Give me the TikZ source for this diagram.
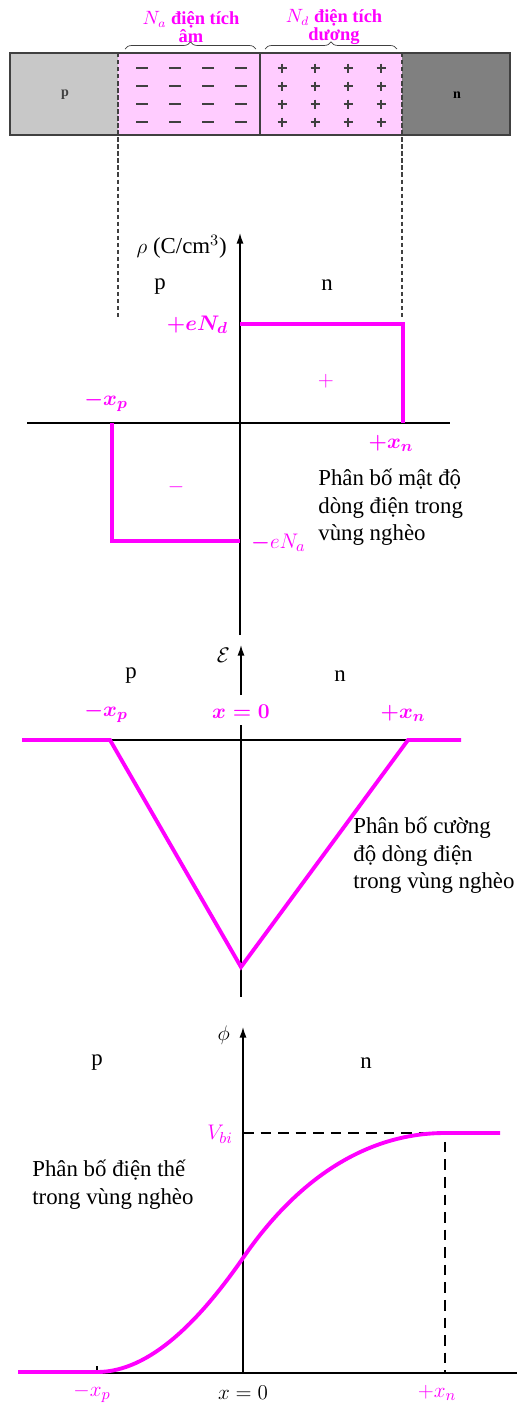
\documentclass[tikz,border=0pt]{standalone}
\usepackage{fontspec}
\setmainfont{Liberation Serif}
\usetikzlibrary{arrows.meta,decorations.pathreplacing}
\definecolor{charge}{HTML}{FF00FF}
\definecolor{pinkzone}{HTML}{FFCCFF}
\definecolor{pgray}{HTML}{C8C8C8}
\definecolor{ngray}{HTML}{808080}
\definecolor{barline}{HTML}{404040}
\begin{document}
\begin{tikzpicture}[x=0.02cm,y=-0.02cm,
  axis/.style={line width=0.8pt},
  axisarrow/.style={axis,-{Latex[length=6pt,width=4pt]}},
  curve/.style={charge,line width=2.2pt},
  border/.style={barline,line width=1.3pt},
  dashline/.style={barline,line width=1.2pt,dash pattern=on 2.5pt off 1.5pt},
  signline/.style={barline,line width=1.1pt},
  lbl/.style={font=\fontsize{13}{15}\selectfont},
  tagb/.style={charge,font=\boldmath\fontsize{13}{15}\selectfont},
  note/.style={font=\fontsize{13}{15.5}\selectfont,align=left,anchor=north west,inner sep=0pt},
  zonelbl/.style={charge,font=\bfseries\fontsize{10.5}{10}\selectfont,align=center}]

\useasboundingbox (0,0) rectangle (519,1403);

% --- Junction bar ---
\fill[pgray] (10,53) rectangle (118,135);
\fill[pinkzone] (118,53) rectangle (402,135);
\fill[ngray] (402,53) rectangle (510,135);
\draw[border] (10,53) rectangle (510,135);
\draw[border] (260,53) -- (260,135);
\draw[dashline] (118,53) -- (118,317);
\draw[dashline] (402,53) -- (402,317);
\node[font=\bfseries\fontsize{8}{8}\selectfont,barline] (pbar) at (65,95) {p};
\node[font=\bfseries\fontsize{8}{8}\selectfont,black] (nbar) at (457,95) {n};

% negative and positive ions
\foreach \cx in {142,175,208,241}
  \foreach \cy in {68,86,104,122}
    \draw[signline] (\cx-6,\cy) -- (\cx+6,\cy);
\foreach \cx in {282,315,348,381}
  \foreach \cy in {68,86,104,122}
    \draw[signline] (\cx-4.5,\cy) -- (\cx+4.5,\cy) (\cx,\cy-4.5) -- (\cx,\cy+4.5);

% braces and zone labels
\draw[barline,decorate,decoration={brace,amplitude=4pt}] (125,49) -- (256,49);
\draw[barline,decorate,decoration={brace,amplitude=4pt}] (265,49) -- (397,49);
\node[zonelbl] (nalbl) at (191,27) {$N_a$ điện tích\\âm};
\node[zonelbl] (ndlbl) at (334,27) {$N_d$ điện tích\\dương};

% --- Charge density ---
\draw[axisarrow] (240,635) -- (240,233);
\draw[axis] (27,423) -- (450,423);
\node[lbl,anchor=east] (rholbl) at (233,247) {$\rho$ (C/cm$^3$)};
\node[lbl] (p1) at (160,287) {p};
\node[lbl] (n1) at (327,285) {n};
\draw[curve] (240,324) -- (403,324) -- (403,423);
\draw[curve] (112,423) -- (112,541) -- (240,541);
\node[tagb,anchor=east] (endlbl) at (234,325) {$+eN_d$};
\node[tagb] (xp1) at (106,402) {$-x_p$};
\node[charge,lbl] (plus1) at (326,381) {$+$};
\node[tagb] (xn1) at (391,443) {$+x_n$};
\node[charge,lbl] (minus1) at (176,487) {$-$};
\node[charge,lbl,anchor=west] (enalbl) at (245,543) {{\boldmath$-$}$eN_a$};
\node[note] (note1) at (318,469) {Phân bố mật độ\\dòng điện trong\\vùng nghèo};

% --- Electric field ---
\draw[axisarrow] (241,695) -- (241,645);
\draw[axis] (241,725) -- (241,997);
\draw[axis] (22,740) -- (461,740);
\draw[curve] (22,740) -- (110,740) -- (241,967) -- (408,740) -- (461,740);
\node[lbl,anchor=east] (elbl) at (236,655) {$\mathcal{E}$};
\node[lbl] (p2) at (131,676) {p};
\node[lbl] (n2) at (340,676) {n};
\node[tagb] (xp2) at (106,713) {$-x_p$};
\node[tagb] (x02) at (241,712) {$x=0$};
\node[tagb] (xn2) at (403,713) {$+x_n$};
\node[note] (note2) at (353,817) {Phân bố cường\\độ dòng điện\\trong vùng nghèo};

% --- Potential ---
\draw[axisarrow] (243,1373) -- (243,1027);
\draw[axis] (18,1373) -- (517,1373);
\draw[axis] (97,1373) -- (97,1366);
\draw[line width=0.8pt,dash pattern=on 6pt off 4pt] (243,1133) -- (445,1133) -- (445,1373);
\draw[curve] (18,1372) -- (97,1372)
  .. controls (150,1372) and (200,1320) .. (243,1258)
  .. controls (300,1175) and (370,1133) .. (445,1133)
  -- (500,1133);
\node[lbl,anchor=east] (philbl) at (236,1035) {$\phi$};
\node[lbl] (p3) at (97,1063) {p};
\node[lbl] (n3) at (366,1063) {n};
\node[charge,lbl,anchor=east] (vbilbl) at (239,1134) {$V_{bi}$};
\node[note] (note3) at (32,1160) {Phân bố điện thế\\trong vùng nghèo};
\node[charge,lbl] (xp3) at (92,1393) {$-x_p$};
\node[lbl] (x03) at (243,1393) {$x=0$};
\node[charge,lbl] (xn3) at (437,1393) {$+x_n$};

\end{tikzpicture}
\end{document}
